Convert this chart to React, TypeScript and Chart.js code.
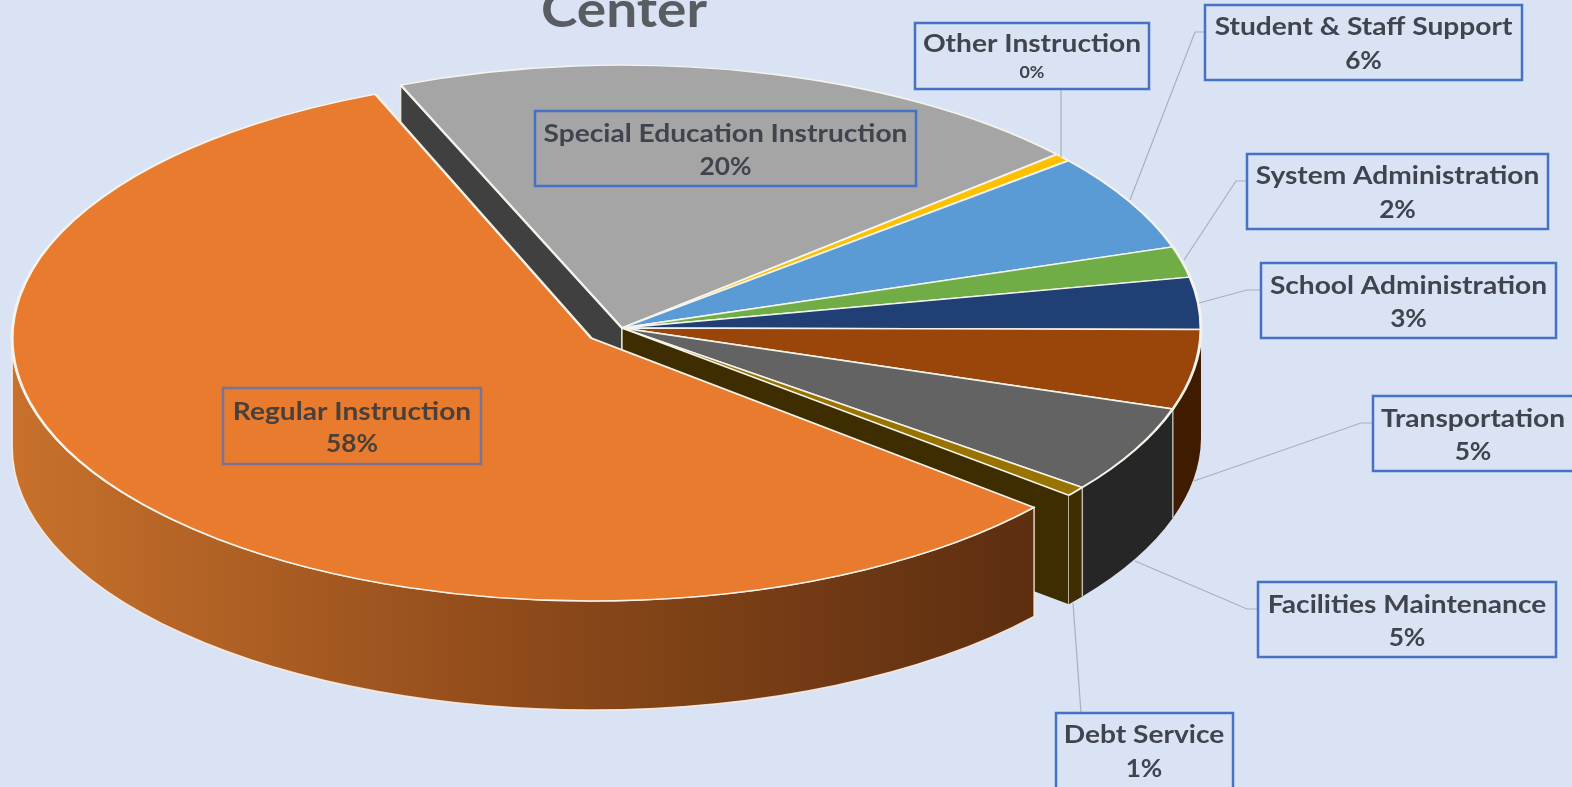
import React, { useEffect, useRef } from "react";
import { Chart, registerables } from "chart.js";

Chart.register(...registerables);

// ---- data ----
const categories = [
  "Regular Instruction",
  "Special Education Instruction",
  "Other Instruction",
  "Student & Staff Support",
  "System Administration",
  "School Administration",
  "Transportation",
  "Facilities Maintenance",
  "Debt Service",
];
const shares = [57.9, 19.8, 0.5, 6, 1.9, 3.2, 4.9, 5.4, 0.6];
const percentLabels = ["58%", "20%", "0%", "6%", "2%", "3%", "5%", "5%", "1%"];
const titleText = "Center";

// ---- styles ----
const topColors = ["#E97B2E", "#A5A5A5", "#FFC000", "#5B9BD5", "#70AD47", "#203F75", "#9A4509", "#636363", "#997300"];
const wallColors = ["#5E2F11", "#404040", "#7F6000", "#2E4E6B", "#385723", "#10203B", "#3F1C00", "#262626", "#3D2D00"];
const BG = "#DAE3F3";
const CX = 622, CY = 328, RADIUS = 579, SQUASH = 0.454, DEPTH = 109, OFFSET = 152, ROTATION = 129.5;
// the library trims an exploded arc's ends a little; this gives the far end back
const END_TRIM_FIX = 0.021;
const START_TRIM = 0.0105;

// label layout: box [x0, y0, x1, y1], first-line offset, leader polyline
const labelBoxes: number[][] = [
  [223, 388, 481, 464], [535, 111, 916, 186], [915, 23, 1149, 89], [1205, 5, 1522, 80],
  [1247, 154, 1548, 229], [1261, 263, 1556, 338], [1373, 396, 1580, 471], [1258, 582, 1556, 657], [1056, 713, 1233, 800],
];
const firstLineOffsets = [32, 31, 29, 30, 30, 31, 31, 31, 30];
const leaders: number[][][] = [
  [], [], [[1061, 89], [1061, 157]], [[1205, 32], [1195, 32], [1130, 200]],
  [[1247, 181], [1236, 181], [1184, 260]], [[1261, 290], [1247, 290], [1199, 303]],
  [[1373, 423], [1361, 423], [1194, 481]], [[1258, 609], [1247, 609], [1135, 561]], [[1081, 713], [1073, 603]],
];

const norm = (a: number) => { const t = Math.PI * 2; return ((a % t) + t) % t; };

function wallBand(ctx: CanvasRenderingContext2D, cx: number, cy: number, r: number, a: number, b: number) {
  const ry = r * SQUASH;
  ctx.beginPath();
  ctx.ellipse(cx, cy, r, ry, 0, a, b, false);
  ctx.lineTo(cx + r * Math.cos(b), cy + ry * Math.sin(b) + DEPTH);
  ctx.ellipse(cx, cy + DEPTH, r, ry, 0, b, a, true);
  ctx.closePath();
}

function radialWall(ctx: CanvasRenderingContext2D, cx: number, cy: number, r: number, a: number, color: string) {
  const ox = cx + r * Math.cos(a), oy = cy + r * SQUASH * Math.sin(a);
  ctx.beginPath();
  ctx.moveTo(cx, cy);
  ctx.lineTo(ox, oy);
  ctx.lineTo(ox, oy + DEPTH);
  ctx.lineTo(cx, cy + DEPTH);
  ctx.closePath();
  ctx.fillStyle = color;
  ctx.fill();
  ctx.strokeStyle = "rgba(255,250,235,0.8)";
  ctx.lineWidth = 1.5;
  ctx.beginPath();
  ctx.moveTo(ox, oy);
  ctx.lineTo(ox, oy + DEPTH);
  ctx.moveTo(cx, cy);
  ctx.lineTo(cx, cy + DEPTH);
  ctx.stroke();
}

function stretchedText(ctx: CanvasRenderingContext2D, text: string, x: number, y: number, sx: number) {
  ctx.save();
  ctx.translate(x, y);
  ctx.scale(sx, 1);
  ctx.fillText(text, 0, 0);
  ctx.restore();
}

const pie3d = {
  id: "pie3d",
  afterDatasetUpdate(chart: any) {
    // the library grows an exploded slice of more than 180 degrees; keep its radius equal to the others
    const arc = chart.getDatasetMeta(0).data[0];
    arc.outerRadius = RADIUS - OFFSET / 4;
    arc.endAngle += END_TRIM_FIX;
  },
  beforeDatasetsDraw(chart: any) {
    const ctx: CanvasRenderingContext2D = chart.ctx;
    const arcs = chart.getDatasetMeta(0).data;
    ctx.save();
    // cut faces exposed by the exploded slice
    const last = arcs.length - 1;
    radialWall(ctx, arcs[1].x, arcs[1].y, RADIUS, arcs[1].startAngle, wallColors[1]);
    radialWall(ctx, arcs[last].x, arcs[last].y, RADIUS, arcs[last].endAngle, wallColors[last]);

    // outer walls of the slices that stay in place
    for (let i = 1; i < arcs.length; i++) {
      const s = norm(arcs[i].startAngle);
      const e = s + (arcs[i].endAngle - arcs[i].startAngle);
      const wraps = e > Math.PI * 2;
      const from = wraps ? 0 : s;
      const to = wraps ? e - Math.PI * 2 : Math.min(e, Math.PI);
      if (from >= Math.PI || to <= from) continue;
      wallBand(ctx, arcs[i].x, arcs[i].y, RADIUS, from, to);
      ctx.fillStyle = wallColors[i];
      ctx.fill();
      const bx = arcs[i].x + RADIUS * Math.cos(from);
      const by = arcs[i].y + RADIUS * SQUASH * Math.sin(from);
      if (from > 0.05) {
        ctx.strokeStyle = "rgba(235,235,225,0.7)";
        ctx.lineWidth = 1.5;
        ctx.beginPath();
        ctx.moveTo(bx, by);
        ctx.lineTo(bx, by + DEPTH);
        ctx.stroke();
      }
    }

    // exploded slice wall
    const a0 = arcs[0];
    const mid = (a0.startAngle + a0.endAngle) / 2;
    const ex = a0.x + Math.cos(mid) * (OFFSET / 4);
    const ey = a0.y + Math.sin(mid) * (OFFSET / 4) * SQUASH;
    const grad = ctx.createLinearGradient(ex - RADIUS, 0, 1036, 0);
    grad.addColorStop(0, "#C8712C");
    grad.addColorStop(0.5, "#8E4A1A");
    grad.addColorStop(1, "#5C2E10");
    wallBand(ctx, ex, ey, RADIUS, norm(a0.startAngle) + START_TRIM, Math.PI);
    ctx.fillStyle = grad;
    ctx.fill();
    ctx.strokeStyle = "rgba(255,240,225,0.85)";
    ctx.lineWidth = 1.5;
    ctx.stroke();
    ctx.restore();

    // the tops are the library's own arcs, seen at an angle
    ctx.save();
    ctx.translate(0, CY);
    ctx.scale(1, SQUASH);
    ctx.translate(0, -CY);
  },
  afterDatasetsDraw(chart: any) {
    const ctx: CanvasRenderingContext2D = chart.ctx;
    ctx.restore();
    ctx.save();
    ctx.textAlign = "center";
    ctx.textBaseline = "alphabetic";

    ctx.fillStyle = "#595D63";
    ctx.font = "bold 50px Lato";
    stretchedText(ctx, titleText, 624, 27, 1.1);

    leaders.forEach((pts) => {
      if (!pts.length) return;
      ctx.strokeStyle = "#A9B0BC";
      ctx.lineWidth = 1.2;
      ctx.beginPath();
      pts.forEach(([x, y], i) => (i ? ctx.lineTo(x, y) : ctx.moveTo(x, y)));
      ctx.stroke();
    });

    categories.forEach((name, i) => {
      const [x0, y0, x1, y1] = labelBoxes[i];
      ctx.strokeStyle = i === 0 ? "rgba(68,114,196,0.7)" : "#4472C4";
      ctx.lineWidth = 2.5;
      ctx.strokeRect(x0, y0, x1 - x0, y1 - y0);
      const tx = i === 6 ? 1473 : i === 8 ? 1144 : (x0 + x1) / 2;
      ctx.fillStyle = i === 0 ? "#4A403A" : "#40444E";
      ctx.font = "bold 25px Lato";
      stretchedText(ctx, name, tx, y0 + firstLineOffsets[i], 1.125);
      ctx.font = i === 2 ? "bold 17px Lato" : "bold 25px Lato";
      stretchedText(ctx, percentLabels[i], tx, y0 + (i === 2 ? 55 : 64), 1.05);
    });
    ctx.restore();
  },
};

export default function App() {
  const ref = useRef<HTMLCanvasElement>(null);
  useEffect(() => {
    document.body.style.margin = "0";
    document.body.style.background = BG;
    const chart = new Chart(ref.current!, {
      type: "pie",
      data: {
        labels: categories,
        datasets: [{
          data: shares,
          backgroundColor: topColors,
          borderColor: "#F4F4EC",
          borderWidth: 3,
          offset: shares.map((_, i) => (i === 0 ? OFFSET : 0)),
          hoverOffset: 0,
        }],
      },
      options: {
        animation: false,
        responsive: false,
        rotation: ROTATION,
        radius: RADIUS,
        layout: { padding: { left: 0, top: 0, right: 1572 - 2 * CX, bottom: 787 - 2 * CY } },
        plugins: { legend: { display: false }, tooltip: { enabled: false }, title: { display: false } },
      },
      plugins: [pie3d],
    } as any);
    return () => chart.destroy();
  }, []);
  return (
    <div style={{ position: "relative", width: 1572, height: 787, overflow: "hidden", background: BG }}>
      <canvas ref={ref} width={1572} height={787} style={{ display: "block" }} />
    </div>
  );
}
